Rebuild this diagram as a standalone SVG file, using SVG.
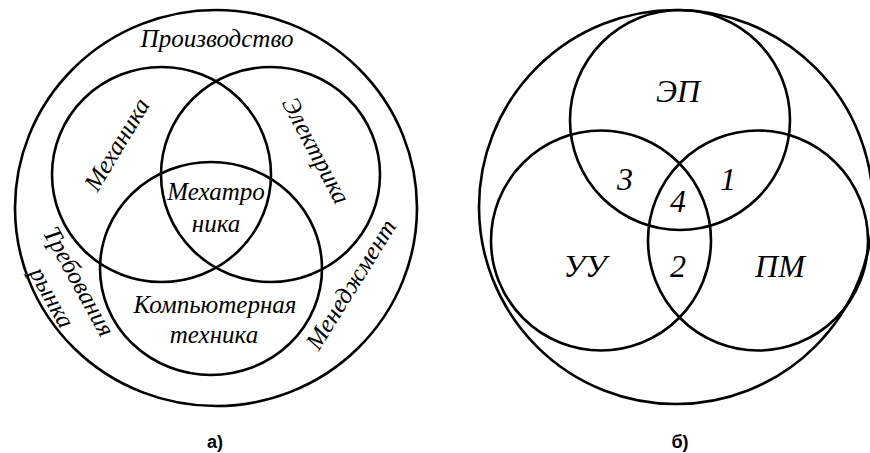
<svg xmlns="http://www.w3.org/2000/svg" width="870" height="453" viewBox="0 0 870 453">
<style>
.c{fill:none;stroke:#000;stroke-width:2.6}
.t{font-family:'Liberation Serif','DejaVu Serif','Times New Roman',serif;font-style:italic;font-size:25px;fill:#000;text-anchor:middle}
.b{font-size:32px}
.cap{font-family:'Liberation Sans',Arial,sans-serif;font-weight:bold;font-size:18px;fill:#000;text-anchor:middle}
</style>
<rect width="870" height="453" fill="#fff"/>
<g id="diagram-a">
  <g id="a-outer"><ellipse class="c" cx="216" cy="208" rx="201" ry="198"/>
    <text class="t" x="217" y="47">Производство</text></g>
  <g id="a-mech"><ellipse class="c" cx="161.5" cy="174.5" rx="109.5" ry="107.5"/>
    <text class="t" transform="translate(118 145) rotate(-59)" y="7">Механика</text></g>
  <g id="a-elec"><ellipse class="c" cx="270.5" cy="174.5" rx="109.5" ry="107.5"/>
    <text class="t" transform="translate(315 151) rotate(62)" y="7">Электрика</text></g>
  <g id="a-comp"><ellipse class="c" cx="211" cy="268.5" rx="111" ry="106.5"/>
    <text class="t" x="215" y="313">Компьютерная</text>
    <text class="t" x="214" y="343">техника</text></g>
  <g id="a-mechatronics"><text class="t" x="216" y="200">Мехатро</text>
    <text class="t" x="216" y="232">ника</text></g>
  <g id="a-market"><text class="t" transform="translate(78 282) rotate(61)" y="7">Требования</text>
    <text class="t" transform="translate(51 298) rotate(61)" y="7">рынка</text></g>
  <g id="a-management"><text class="t" transform="translate(352 285) rotate(-58)" y="7">Менеджмент</text></g>
  <text class="cap" x="215" y="448">а)</text>
</g>
<g id="diagram-b">
  <g id="b-outer"><circle class="c" cx="676" cy="207" r="197"/></g>
  <g id="b-ep"><circle class="c" cx="680" cy="120" r="110"/>
    <text class="t b" x="678" y="102">ЭП</text></g>
  <g id="b-uu"><circle class="c" cx="601" cy="240.5" r="110"/>
    <text class="t b" x="585" y="277">УУ</text></g>
  <g id="b-pm"><circle class="c" cx="758" cy="240.5" r="110"/>
    <text class="t b" x="780" y="277">ПМ</text></g>
  <g id="b-regions">
    <text class="t b" x="625" y="190">3</text>
    <text class="t b" x="728" y="190">1</text>
    <text class="t b" x="678" y="212">4</text>
    <text class="t b" x="678" y="277">2</text>
  </g>
  <text class="cap" x="680" y="448">б)</text>
</g>
<g id="connectors"/>
</svg>
